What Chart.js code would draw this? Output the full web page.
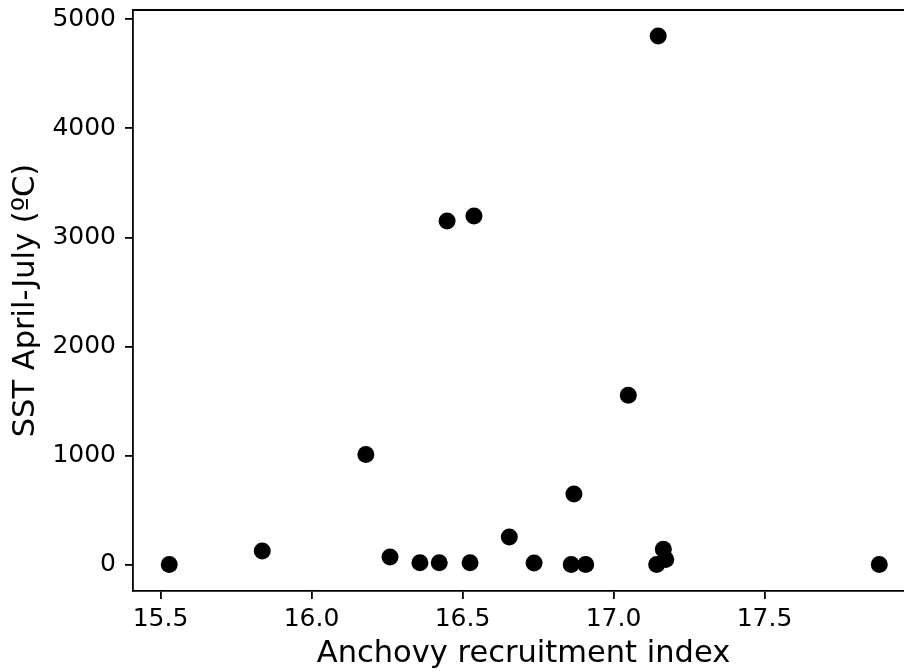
<!DOCTYPE html>
<html>
<head>
<meta charset="utf-8">
<script src="https://cdn.jsdelivr.net/npm/chart.js@4/dist/chart.umd.min.js"></script>
<style>
html,body{margin:0;padding:0;background:#fff;overflow:hidden;}
#wrap{width:904px;height:672px;position:relative;overflow:hidden;}
</style>
</head>
<body>
<div id="wrap"><canvas id="c" width="914" height="672"></canvas></div>
<script>
const recruitmentIndex = [15.529, 15.837, 16.180, 16.260, 16.359, 16.423, 16.449, 16.525, 16.538, 16.655, 16.737, 16.860, 16.869, 16.908, 17.049, 17.143, 17.148, 17.165, 17.173, 17.880];
const sstValues        = [0,      125,    1009,   70,     18,     18,     3150,   18,     3196,   253,    14,     0,      648,    0,      1553,   0,      4847,   140,    46,     0];
const xTicks = [15.5, 16.0, 16.5, 17.0, 17.5];
const yTicks = [0, 1000, 2000, 3000, 4000, 5000];
const xTitle = 'Anchovy recruitment index';
const yTitle = 'SST April-July (ºC)';

const points = recruitmentIndex.map((x, i) => ({x: x, y: sstValues[i]}));

const topSpine = {
  id: 'topSpine',
  afterDraw(chart) {
    const a = chart.chartArea, ctx = chart.ctx;
    ctx.save();
    ctx.strokeStyle = '#000';
    ctx.lineWidth = 1.8;
    ctx.beginPath();
    ctx.moveTo(a.left - 0.9, a.top);
    ctx.lineTo(a.right, a.top);
    ctx.stroke();
    ctx.restore();
  }
};

new Chart(document.getElementById('c'), {
  type: 'scatter',
  data: {
    datasets: [{
      data: points,
      backgroundColor: '#000',
      borderColor: '#000',
      borderWidth: 0,
      pointRadius: 8.5,
      pointHoverRadius: 8.5,
      clip: false
    }]
  },
  options: {
    responsive: false,
    animation: false,
    devicePixelRatio: 1,
    layout: {autoPadding: false, padding: {top: 10, right: 0, left: 0, bottom: 0}},
    plugins: {legend: {display: false}, tooltip: {enabled: false}},
    scales: {
      x: {
        type: 'linear',
        min: 15.409,
        max: 17.995,
        afterFit(s) { s.height = 81; s.paddingLeft = 0; s.paddingRight = 0; },
        afterBuildTicks(s) { s.ticks = xTicks.map(v => ({value: v})); },
        grid: {drawOnChartArea: false, drawTicks: true, tickLength: 8, color: '#000', lineWidth: 1.8},
        border: {display: true, color: '#000', width: 1.8},
        ticks: {
          color: '#000',
          padding: 5,
          font: {family: 'DejaVu Sans', size: 25},
          maxRotation: 0,
          callback: v => v.toFixed(1)
        },
        title: {display: true, text: xTitle, color: '#000', font: {family: 'DejaVu Sans', size: 30.5}, padding: {top: 0, bottom: 0}}
      },
      y: {
        type: 'linear',
        min: -242,
        max: 5085,
        afterFit(s) { s.width = 133; s.paddingTop = 0; s.paddingBottom = 0; },
        afterBuildTicks(s) { s.ticks = yTicks.map(v => ({value: v})); },
        grid: {drawOnChartArea: false, drawTicks: true, tickLength: 8, color: '#000', lineWidth: 1.8},
        border: {display: true, color: '#000', width: 1.8},
        ticks: {
          color: '#000',
          padding: 9,
          font: {family: 'DejaVu Sans', size: 25},
          callback: v => String(v)
        },
        title: {display: true, text: yTitle, color: '#000', font: {family: 'DejaVu Sans', size: 30.5}, padding: {top: 8, bottom: 0}}
      }
    }
  },
  plugins: [topSpine]
});
</script>
</body>
</html>
